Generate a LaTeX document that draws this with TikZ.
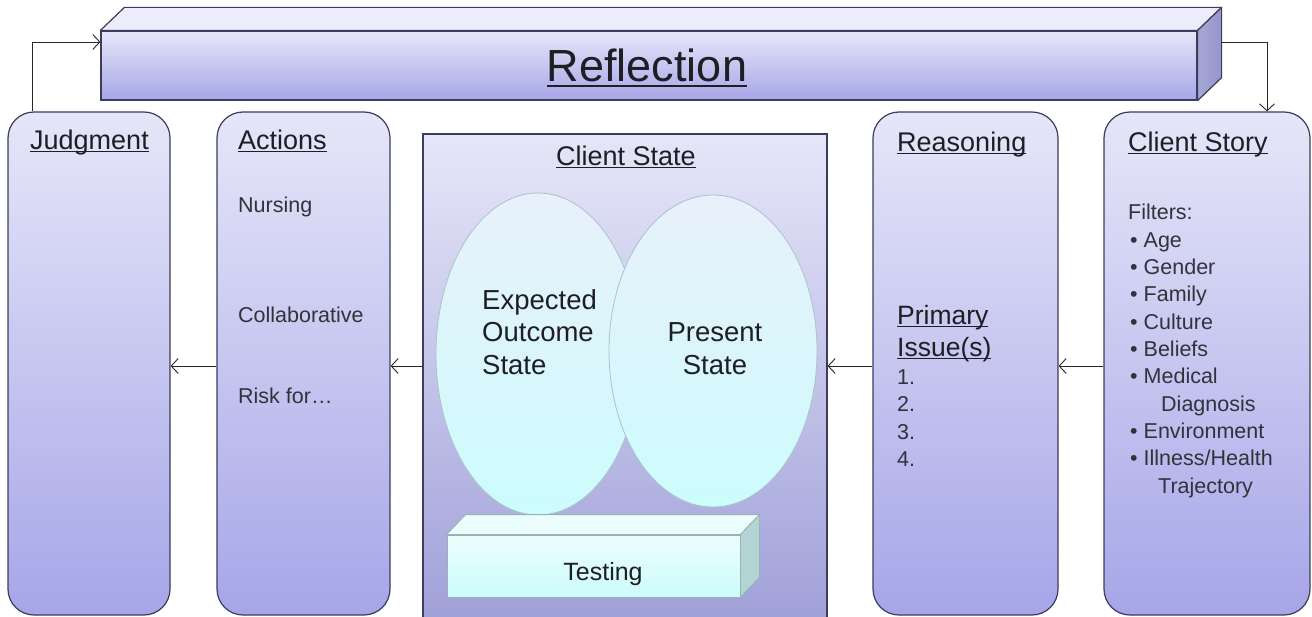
\documentclass[tikz,border=0pt]{standalone}
\usepackage{fontspec}
\setmainfont{Liberation Sans}
\usetikzlibrary{arrows.meta,calc,shapes.geometric}
\definecolor{boxtop}{RGB}{230,230,249}
\definecolor{boxbot}{RGB}{166,166,232}
\definecolor{boxline}{RGB}{60,60,92}
\definecolor{refltop}{RGB}{236,236,251}
\definecolor{reflright}{RGB}{150,150,206}
\definecolor{elltop}{RGB}{232,240,251}
\definecolor{ellbot}{RGB}{204,252,252}
\definecolor{elline}{RGB}{168,196,204}
\definecolor{testtop}{RGB}{236,253,253}
\definecolor{testright}{RGB}{178,212,212}
\definecolor{testline}{RGB}{150,180,180}
\definecolor{txt}{RGB}{30,30,36}
\definecolor{btxt}{RGB}{50,50,60}
\newsavebox\myulbox
\newcommand\myul[2][0.09em]{\sbox\myulbox{#2}\rlap{\rule[-#1]{\wd\myulbox}{0.05em}}\usebox\myulbox}
\newcommand\fsz[1]{\fontsize{#1}{#1}\selectfont}
\begin{document}
\begin{tikzpicture}[x=1pt,y=-1pt,
  box/.style={draw=boxline, line width=1.2pt, rounded corners=26pt, top color=boxtop, bottom color=boxbot, inner sep=0pt},
  csbox/.style={draw=boxline, line width=1.2pt, top color=boxtop, bottom color=boxbot!92!black, inner sep=0pt},
  ell/.style={ellipse, draw=elline, line width=0.8pt, top color=elltop, bottom color=ellbot, inner sep=0pt},
  title/.style={anchor=base west, inner sep=0pt, text=txt, font=\fsz{27}},
  body/.style={anchor=base west, inner sep=0pt, text=btxt, font=\fsz{21.5}},
  conn/.style={draw=black!85, line width=0.9pt, -{Straight Barb[length=7pt,width=15pt,line width=0.9pt]}},
]
\clip (0,0) rectangle (1312,617);
\fill[white] (0,0) rectangle (1312,617);

% Reflection block
\node[draw=boxline, line width=1.2pt, top color=boxtop, bottom color=boxbot, inner sep=0pt,
      minimum width=1096, minimum height=69] (refl) at (649,65.5) {};
\path[draw=boxline, line width=1.2pt, fill=refltop, line join=round]
  (refl.north west) -- ++(24,-23) -- ($(refl.north east)+(24,-23)$) -- (refl.north east) -- cycle;
\path[draw=boxline, line width=1.2pt, left color=reflright!85!white, right color=reflright, line join=round]
  (refl.north east) -- ++(24,-23) -- ($(refl.south east)+(24,-23)$) -- (refl.south east) -- cycle;
\node[anchor=base, inner sep=0pt, text=txt, font=\fsz{45}] (reflT) at (647,82) {\myul[0.11em]{Reflection}};

% Columns
\node[box, minimum width=162, minimum height=503] (judg) at (89,363.5) {};
\node[box, minimum width=173, minimum height=503] (act) at (303.5,363.5) {};
\node[csbox, minimum width=404, minimum height=540] (cst) at (625,404) {};
\node[box, minimum width=185, minimum height=503] (reas) at (965.5,363.5) {};
\node[box, minimum width=206, minimum height=503] (cstory) at (1207,363.5) {};

% Titles
\node[title] (judgT) at (30,150) {\myul{Judgment}};
\node[title] (actT) at (238,150) {\myul{Actions}};
\node[title, anchor=base] (cstT) at (626,166) {\myul{Client State}};
\node[title] (reasT) at (897,152) {\myul{Reasoning}};
\node[title] (csT) at (1128,152) {\myul{Client Story}};

% Actions content
\node[body] (a1) at (238,213) {Nursing};
\node[body] (a2) at (238,323) {Collaborative};
\node[body] (a3) at (238,404) {Risk for…};

% Ellipses
\node[ell, minimum width=204, minimum height=322] (exp) at (538,354) {};
\node[ell, minimum width=208, minimum height=312] (pres) at (713,351) {};
\node[anchor=base west, inner sep=0pt, text=txt, font=\fsz{27.5}] (e1) at (482,310) {Expected};
\node[anchor=base west, inner sep=0pt, text=txt, font=\fsz{27.5}] (e2) at (482,342) {Outcome};
\node[anchor=base west, inner sep=0pt, text=txt, font=\fsz{27.5}] (e3) at (482,375) {State};
\node[anchor=base, inner sep=0pt, text=txt, font=\fsz{27.5}] (p1) at (715,342) {Present};
\node[anchor=base, inner sep=0pt, text=txt, font=\fsz{27.5}] (p2) at (715,375) {State};

% Testing block
\node[draw=testline, line width=0.8pt, top color=testtop, bottom color=ellbot, inner sep=0pt,
      minimum width=293, minimum height=62] (test) at (593.5,566) {};
\path[draw=testline, line width=0.8pt, fill=testtop, line join=round]
  (test.north west) -- ++(19,-20) -- ($(test.north east)+(19,-20)$) -- (test.north east) -- cycle;
\path[draw=testline, line width=0.8pt, fill=testright, line join=round]
  (test.north east) -- ++(19,-20) -- ($(test.south east)+(19,-20)$) -- (test.south east) -- cycle;
\node[anchor=base, inner sep=0pt, text=txt, font=\fsz{25}] (testT) at (603,580) {Testing};

% Reasoning content
\node[anchor=base west, inner sep=0pt, text=txt, font=\fsz{26.5}] (r1) at (897,325) {\myul{Primary}};
\node[anchor=base west, inner sep=0pt, text=txt, font=\fsz{26.5}] (r2) at (897,357) {\myul{Issue(s)}};
\node[body] (n1) at (897,385) {1.};
\node[body] (n2) at (897,412) {2.};
\node[body] (n3) at (897,439) {3.};
\node[body] (n4) at (897,466) {4.};

% Client Story content
\node[body] (f0) at (1128,220) {Filters:};
\node[body] (f1) at (1130,247.3) {• Age};
\node[body] (f2) at (1130,274.6) {• Gender};
\node[body] (f3) at (1130,301.9) {• Family};
\node[body] (f4) at (1130,329.2) {• Culture};
\node[body] (f5) at (1130,356.5) {• Beliefs};
\node[body] (f6) at (1130,383.8) {• Medical};
\node[body] (f7) at (1161,411.1) {Diagnosis};
\node[body] (f8) at (1130,438.4) {• Environment};
\node[body] (f9) at (1130,465.7) {• Illness/Health};
\node[body] (f10) at (1158,493) {Trajectory};

% Connectors
\coordinate (ya) at (0,366);
\coordinate (jx) at (32,0);
\coordinate (ry) at (0,42);
\coordinate (rb) at (1221,42);
\coordinate (sx) at (1267,0);
\draw[conn] (act.west |- ya) -- (judg.east |- ya);
\draw[conn] (cst.west |- ya) -- (act.east |- ya);
\draw[conn] (reas.west |- ya) -- (cst.east |- ya);
\draw[conn] (cstory.west |- ya) -- (reas.east |- ya);
\draw[conn] (judg.north -| jx) |- (refl.west |- ry);
\draw[conn] (rb) -| (cstory.north -| sx);
\end{tikzpicture}
\end{document}
